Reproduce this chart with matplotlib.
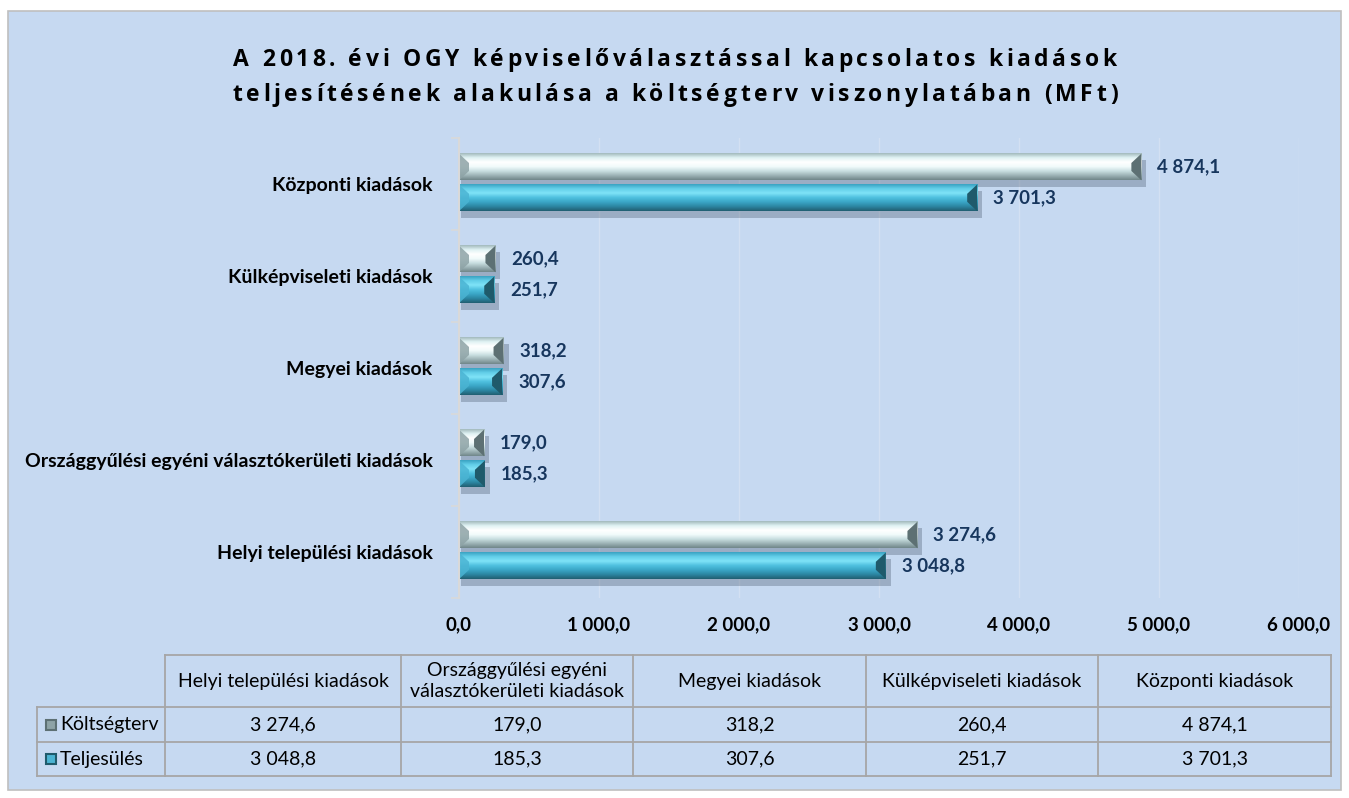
import numpy as np
import matplotlib.pyplot as plt
from matplotlib.colors import LinearSegmentedColormap
from matplotlib.patches import Rectangle, Polygon
from matplotlib.font_manager import FontProperties
from matplotlib.textpath import TextToPath

plt.rcParams['font.family'] = ['Lato', 'DejaVu Sans']

# data
categories = ['Helyi települési kiadások',
              'Országgyűlési egyéni választókerületi kiadások',
              'Megyei kiadások', 'Külképviseleti kiadások', 'Központi kiadások']
table_headers = ['Helyi települési kiadások',
                 'Országgyűlési egyéni\nválasztókerületi kiadások',
                 'Megyei kiadások', 'Külképviseleti kiadások', 'Központi kiadások']
koltsegterv = [3274.6, 179.0, 318.2, 260.4, 4874.1]
teljesules = [3048.8, 185.3, 307.6, 251.7, 3701.3]
series_names = ['Költségterv', 'Teljesülés']
x_ticks = [0, 1000, 2000, 3000, 4000, 5000, 6000]
title_lines = ['A 2018. évi OGY képviselőválasztással kapcsolatos kiadások',
               'teljesítésének alakulása a költségterv viszonylatában (MFt)']


def hu(v):
    return f'{v:,.1f}'.replace(',', ' ').replace('.', ',')


bg = '#C6D9F1'
navy = '#17365D'
cmap_kt = LinearSegmentedColormap.from_list('kt', ['#a3babd', '#dff2f3', '#ffffff', '#f2fbfb',
                                                   '#c9dfe1', '#9db3b6', '#71878a'])
cmap_tj = LinearSegmentedColormap.from_list('tj', ['#3aa3c3', '#63cfe9', '#7fe3f7', '#4fc0df',
                                                   '#3aa6c6', '#2c86a2', '#215f72'])
styles = [(cmap_kt, '#8ea3a6', '#5d7073'), (cmap_tj, '#4bb4d3', '#1f5a6b')]

fig = plt.figure(figsize=(13.49, 7.98), dpi=100)
fig.patch.set_facecolor('white')

# background panel + table in pixel coordinates
bgax = fig.add_axes([0, 0, 1, 1], zorder=0)
bgax.set_xlim(0, 1349)
bgax.set_ylim(798, 0)
bgax.axis('off')
bgax.add_patch(Rectangle((8, 11), 1333, 779, facecolor=bg, edgecolor='#BFBFBF', lw=1.2))

ax = fig.add_axes([459 / 1349, 1 - 598 / 798, 840 / 1349, 460 / 798], zorder=1)
ax.set_facecolor('none')

y = np.arange(len(categories))
h = 0.29
offsets = [0.185, -0.15]
px = 1000 / 140.0  # data units per pixel
cw = 10 * px

for vals, off, (cmap, c_left, c_right) in zip([koltsegterv, teljesules], offsets, styles):
    for yi, w in zip(y, vals):
        yc = yi + off
        y0, y1 = yc - h / 2, yc + h / 2
        ax.add_patch(Rectangle((2 * px, y0 - 0.07), w + 3 * px, h, facecolor='#46566b',
                               alpha=0.33, lw=0, zorder=1))
        grad = np.linspace(0, 1, 80).reshape(-1, 1)
        ax.imshow(grad, cmap=cmap, aspect='auto', extent=[0, w, y0, y1],
                  origin='upper', zorder=2, interpolation='bilinear')
        d = h * 0.35
        ax.add_patch(Polygon([(w, y1), (w - cw, y1 - d), (w - cw, y0 + d), (w, y0)],
                             closed=True, facecolor=c_right, lw=0, zorder=3))
        ax.add_patch(Polygon([(0, y1), (cw, y1 - d), (cw, y0 + d), (0, y0)],
                             closed=True, facecolor=c_left, alpha=0.85, lw=0, zorder=3))
        ax.text(w + 16 * px, yc, hu(w), va='center', ha='left', fontsize=13.5,
                fontweight='bold', color=navy, zorder=4)

ax.set_xlim(0, 6000)
ax.set_ylim(-0.5, len(categories) - 0.5)
ax.set_xticks(x_ticks)
ax.set_xticklabels([hu(t) for t in x_ticks], fontsize=13.5, fontweight='bold')
ax.set_yticks(y)
ax.set_yticklabels(categories, fontsize=14, fontweight='bold')
ax.set_yticks(np.arange(-0.5, len(categories)), minor=True)
ax.tick_params(axis='y', which='major', length=0, pad=19)
ax.tick_params(axis='y', which='minor', length=6, color='#D9D9D9', width=1.2)
ax.tick_params(axis='x', length=0, pad=13)
ax.grid(axis='x', color='#D3E0F2', lw=1, zorder=0)
ax.set_axisbelow(True)
for s in ['top', 'right', 'bottom']:
    ax.spines[s].set_visible(False)
ax.spines['left'].set_color('#D9D9D9')
ax.spines['left'].set_linewidth(1.5)
ax.spines['left'].set_zorder(5)

# letter-spaced title, drawn glyph by glyph
tfont = FontProperties(family='Open Sans', weight='bold', size=16.5)
t2p = TextToPath()


def adv(ch):
    w, _, _ = t2p.get_text_width_height_descent('I' + ch + 'I', tfont, ismath=False)
    w0, _, _ = t2p.get_text_width_height_descent('II', tfont, ismath=False)
    return (w - w0) * fig.dpi / 72.0


track = 3.6
for line, ybase in zip(title_lines, [66, 101]):
    advs = [adv(ch) for ch in line]
    total = sum(advs) + track * (len(line) - 1)
    x = 675 - total / 2
    for ch, a in zip(line, advs):
        if ch != ' ':
            bgax.text(x, ybase, ch, ha='left', va='baseline', fontproperties=tfont,
                      color='black')
        x += a + track

# data table
cols = [165, 401, 633, 866, 1098, 1331]
rows = [655, 707, 742, 776]
left = 37
lc = '#A6A6A6'
bgax.plot([cols[0], cols[-1]], [rows[0], rows[0]], color=lc, lw=1.3)
for r in rows[1:]:
    bgax.plot([left, cols[-1]], [r, r], color=lc, lw=1.3)
for c in cols:
    bgax.plot([c, c], [rows[0], rows[-1]], color=lc, lw=1.3)
bgax.plot([left, left], [rows[1], rows[-1]], color=lc, lw=1.3)

for i, hdr in enumerate(table_headers):
    cx = (cols[i] + cols[i + 1]) / 2
    bgax.text(cx, (rows[0] + rows[1]) / 2, hdr, ha='center', va='center',
              fontsize=14, linespacing=1.32)
for ri, (name, vals, (cmap, c_left, c_right)) in enumerate(zip(series_names,
                                                              [koltsegterv, teljesules], styles)):
    cy = (rows[ri + 1] + rows[ri + 2]) / 2
    bgax.add_patch(Rectangle((46, cy - 5), 10, 10, facecolor=c_left, edgecolor=c_right, lw=1.5))
    bgax.text(60, cy, name, ha='left', va='center', fontsize=14)
    for i, v in enumerate(vals):
        cx = (cols[i] + cols[i + 1]) / 2
        bgax.text(cx, cy, hu(v), ha='center', va='center', fontsize=14)

fig.savefig('out.png', dpi=100, facecolor=fig.get_facecolor())
